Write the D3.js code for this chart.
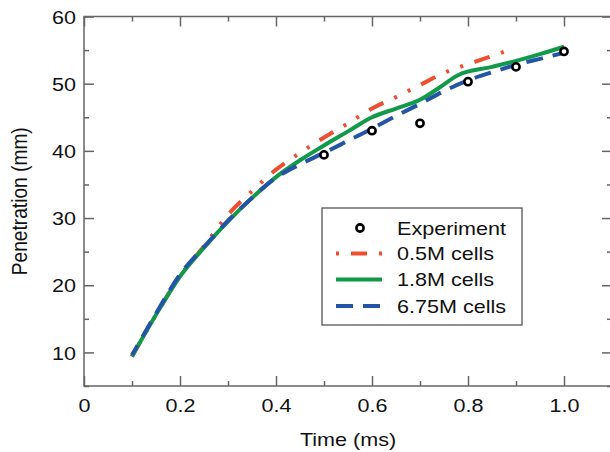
<!DOCTYPE html>
<html>
<head>
<meta charset="utf-8">
<script src="https://cdn.jsdelivr.net/npm/d3@7"></script>
<style>
  body { margin: 0; background: #fff; }
  svg text { font-family: "Liberation Sans", Arial, Helvetica, sans-serif; fill: #111; }
</style>
</head>
<body>
<svg id="chart" width="610" height="452"></svg>
<script>
// --- data ---
const expTime = [0.5, 0.6, 0.7, 0.8, 0.9, 1.0];
const expPen = [39.4, 43.0, 44.1, 50.3, 52.5, 54.8];

const coarseTime = [0.1, 0.15, 0.2, 0.25, 0.3, 0.35, 0.4, 0.45, 0.5, 0.55, 0.6, 0.65, 0.7, 0.75, 0.8, 0.85, 0.885];
const coarsePen = [9.4, 15.6, 21.4, 25.8, 30.5, 34.0, 37.2, 39.7, 42.0, 44.1, 46.3, 48.0, 49.8, 51.6, 52.9, 54.1, 55.0];

const mediumTime = [0.1, 0.15, 0.2, 0.25, 0.3, 0.35, 0.4, 0.45, 0.5, 0.55, 0.6, 0.65, 0.7, 0.74, 0.78, 0.85, 0.9, 0.95, 1.0];
const mediumPen = [9.4, 15.6, 21.3, 25.6, 29.5, 33.0, 36.1, 38.6, 40.8, 42.9, 45.0, 46.3, 47.6, 49.4, 51.3, 52.5, 53.4, 54.4, 55.5];

const fineTime = [0.1, 0.15, 0.2, 0.25, 0.3, 0.35, 0.4, 0.45, 0.5, 0.55, 0.6, 0.65, 0.7, 0.75, 0.8, 0.85, 0.9, 0.95, 1.0];
const finePen = [9.6, 15.8, 21.6, 25.7, 29.6, 33.0, 36.0, 38.0, 39.7, 41.5, 43.3, 45.2, 47.0, 48.9, 50.5, 51.7, 52.8, 53.7, 54.6];

const xTicks = [0, 0.2, 0.4, 0.6, 0.8, 1.0];
const xTickLabels = ["0", "0.2", "0.4", "0.6", "0.8", "1.0"];
const xMinorTicks = [0.1, 0.3, 0.5, 0.7, 0.9, 1.1];
const yTicks = [10, 20, 30, 40, 50, 60];
const yTickLabels = ["10", "20", "30", "40", "50", "60"];
const yMinorTicks = [5, 15, 25, 35, 45, 55];

const legendLabels = ["Experiment", "0.5M cells", "1.8M cells", "6.75M cells"];

// --- layout ---
const margin = { left: 84, right: 612, top: 16.5, bottom: 386 };
const stretch = 1.16; // the type in the figure is a bit wide
const fontSize = 18.6;
const axisColor = "#666";

const svg = d3.select("#chart");

const x = d3.scaleLinear().domain([0, 1.1]).range([margin.left, margin.right]);
const y = d3.scaleLinear().domain([5, 60]).range([margin.bottom, margin.top]);

// frame
svg.append("rect")
  .attr("x", margin.left).attr("y", margin.top)
  .attr("width", margin.right - margin.left)
  .attr("height", margin.bottom - margin.top)
  .attr("fill", "none").attr("stroke", axisColor).attr("stroke-width", 1.5);

function styleAxis(g) {
  g.select(".domain").remove();
  g.selectAll(".tick line").attr("stroke", axisColor).attr("stroke-width", 1.5);
  g.selectAll("text").attr("font-size", fontSize).attr("fill", "#111")
    .attr("font-family", "'Liberation Sans', Arial, sans-serif");
}

// bottom axis, major + minor
svg.append("g").attr("transform", `translate(0,${margin.bottom})`)
  .call(d3.axisBottom(x).tickValues(xTicks).tickSize(-10).tickPadding(13)
    .tickFormat((d, i) => xTickLabels[i]))
  .call(styleAxis)
  .call(g => g.selectAll("text").attr("transform", `scale(${stretch},1)`));
svg.append("g").attr("transform", `translate(0,${margin.bottom})`)
  .call(d3.axisBottom(x).tickValues(xMinorTicks).tickSize(-5).tickFormat(""))
  .call(styleAxis);

// top axis
svg.append("g").attr("transform", `translate(0,${margin.top})`)
  .call(d3.axisTop(x).tickValues(xTicks).tickSize(-10).tickFormat(""))
  .call(styleAxis);
svg.append("g").attr("transform", `translate(0,${margin.top})`)
  .call(d3.axisTop(x).tickValues(xMinorTicks).tickSize(-5).tickFormat(""))
  .call(styleAxis);

// left axis
svg.append("g").attr("transform", `translate(${margin.left},0)`)
  .call(d3.axisLeft(y).tickValues(yTicks).tickSize(-10)
    .tickFormat((d, i) => yTickLabels[i]))
  .call(styleAxis)
  .call(g => g.selectAll("text")
    .attr("x", -8 / stretch)
    .attr("dy", "0.36em")
    .attr("transform", `scale(${stretch},1)`));
svg.append("g").attr("transform", `translate(${margin.left},0)`)
  .call(d3.axisLeft(y).tickValues(yMinorTicks).tickSize(-5).tickFormat(""))
  .call(styleAxis);

// right axis
svg.append("g").attr("transform", `translate(${margin.right},0)`)
  .call(d3.axisRight(y).tickValues(yTicks).tickSize(-10).tickFormat(""))
  .call(styleAxis);
svg.append("g").attr("transform", `translate(${margin.right},0)`)
  .call(d3.axisRight(y).tickValues(yMinorTicks).tickSize(-5).tickFormat(""))
  .call(styleAxis);

// axis titles
svg.append("text")
  .attr("transform", `translate(${(margin.left + margin.right) / 2},446) scale(${stretch},1)`)
  .attr("text-anchor", "middle")
  .attr("font-size", fontSize)
  .text("Time (ms)");

svg.append("text")
  .attr("transform", `translate(26.5,${(margin.top + margin.bottom) / 2}) rotate(-90) scale(1.03,${stretch})`)
  .attr("text-anchor", "middle")
  .attr("font-size", fontSize)
  .text("Penetration (mm)");

// series
const series = [
  { time: coarseTime, pen: coarsePen, color: "#ef4f30", dash: "16,12,3,12,3,12", offset: 0 },
  { time: mediumTime, pen: mediumPen, color: "#12994a", dash: null, offset: 0 },
  { time: fineTime, pen: finePen, color: "#2454a6", dash: "17,10", offset: 6 }
];

const line = d3.line()
  .x(d => x(d[0]))
  .y(d => y(d[1]))
  .curve(d3.curveMonotoneX);

series.forEach(s => {
  svg.append("path")
    .datum(d3.zip(s.time, s.pen))
    .attr("d", line)
    .attr("fill", "none")
    .attr("stroke", s.color)
    .attr("stroke-width", 4)
    .attr("stroke-dasharray", s.dash)
    .attr("stroke-dashoffset", s.offset);
});

// experiment markers
svg.append("g").selectAll("circle")
  .data(d3.zip(expTime, expPen))
  .join("circle")
  .attr("cx", d => x(d[0]))
  .attr("cy", d => y(d[1]))
  .attr("r", 3.6)
  .attr("fill", "#fff")
  .attr("stroke", "#000")
  .attr("stroke-width", 2.6);

// legend
const legend = svg.append("g").attr("transform", "translate(322,208)");
legend.append("rect")
  .attr("width", 200).attr("height", 117)
  .attr("fill", "#fff").attr("stroke", "#555").attr("stroke-width", 1.3);

const rowY = [20, 45.5, 71.5, 98];
legendLabels.forEach((label, i) => {
  const g = legend.append("g").attr("transform", `translate(0,${rowY[i]})`);
  if (i === 0) {
    g.append("circle").attr("cx", 38).attr("cy", 0).attr("r", 3.6)
      .attr("fill", "#fff").attr("stroke", "#000").attr("stroke-width", 2.6);
  } else {
    const s = series[i - 1];
    g.append("line").attr("x1", 14).attr("x2", 60).attr("y1", 0).attr("y2", 0)
      .attr("stroke", s.color).attr("stroke-width", 4)
      .attr("stroke-dasharray", s.dash)
      .attr("stroke-dashoffset", i === 1 ? 43 : 0);
  }
  g.append("text")
    .attr("transform", `translate(75,6.6) scale(${stretch},1)`)
    .attr("font-size", fontSize)
    .text(label);
});
</script>
</body>
</html>
